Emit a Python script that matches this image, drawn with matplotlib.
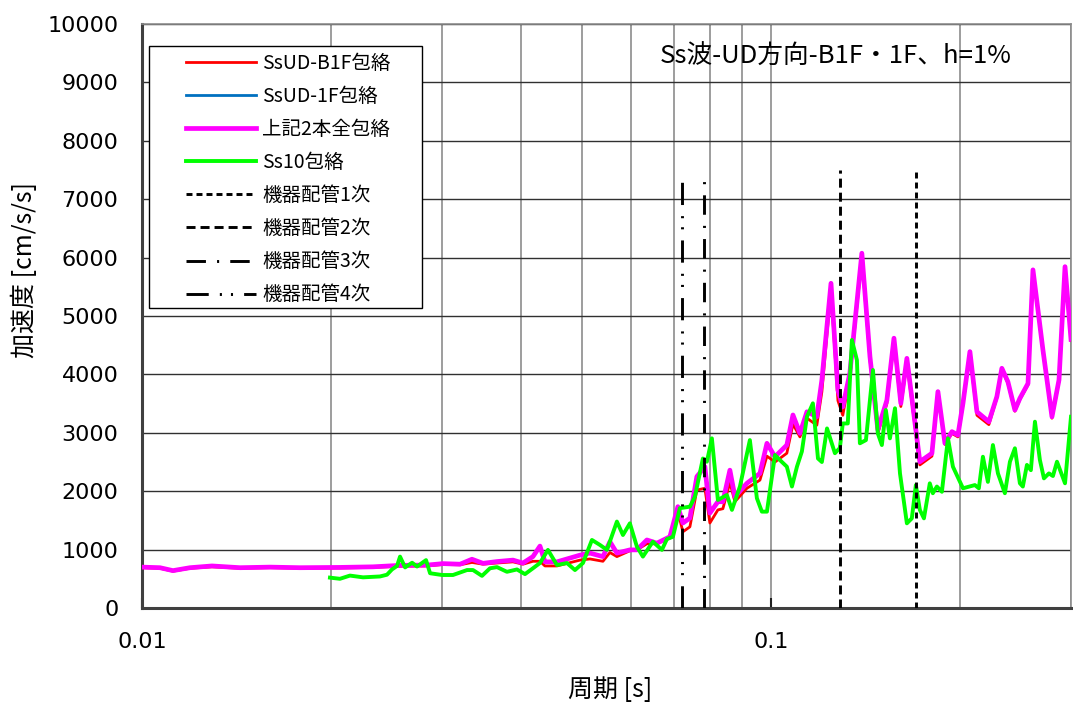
import matplotlib
matplotlib.use("Agg")
import matplotlib.pyplot as plt
from matplotlib.patches import Rectangle
from matplotlib.ticker import FixedLocator, NullFormatter, LogLocator

plt.rcParams['font.family'] = ['DejaVu Sans']
plt.rcParams['lines.scale_dashes'] = False
JP = ['Noto Sans CJK JP', 'DejaVu Sans']

# ---- data ----
env_period = [0.01, 0.01068, 0.0112, 0.01192, 0.01292, 0.01432, 0.01598, 0.01783, 0.02064, 0.02329,
              0.02572, 0.0284, 0.0301, 0.03204, 0.03347, 0.03485, 0.03668, 0.03889, 0.04034, 0.04184,
              0.04293, 0.04372, 0.04569, 0.0497, 0.05155, 0.05406, 0.05546, 0.0569, 0.05967, 0.06122,
              0.0635, 0.06587, 0.06908, 0.07113, 0.07245, 0.07433, 0.07625, 0.07852, 0.07997, 0.08235,
              0.08387, 0.08605, 0.08764, 0.09157, 0.09606, 0.09855, 0.1015, 0.106, 0.1084, 0.1112,
              0.1141, 0.1183, 0.1205, 0.1246, 0.1278, 0.1301, 0.1335, 0.1395, 0.1437, 0.1479,
              0.1529, 0.1569, 0.1609, 0.1645, 0.1725, 0.1803, 0.1843, 0.1891, 0.194, 0.1983,
              0.202, 0.2072, 0.2126, 0.2221, 0.2287, 0.2329, 0.2381, 0.2443, 0.2488, 0.2563,
              0.261, 0.2707, 0.2798, 0.2871, 0.2935, 0.3]
all_env = [700, 690, 640, 690, 720, 690, 700, 690, 695, 705,
           730, 735, 760, 750, 835, 765, 795, 820, 770, 880,
           1060, 790, 790, 905, 940, 880, 1135, 940, 995, 995,
           1165, 1110, 1220, 1735, 1455, 1540, 2250, 2420, 1625, 1820,
           1820, 2360, 1905, 2135, 2305, 2820, 2590, 2790, 3305, 2990,
           3360, 3275, 3900, 5560, 3730, 3445, 4020, 6075, 4305, 3050,
           3560, 4620, 3505, 4275, 2505, 2650, 3705, 2820, 3020, 2960,
           3505, 4390, 3360, 3190, 3620, 4105, 3875, 3390, 3590, 3845,
           5790, 4420, 3275, 3905, 5845, 4600]
b1f_env = [690, 680, 630, 680, 705, 680, 690, 680, 685, 695,
           715, 720, 745, 740, 780, 750, 770, 790, 750, 800,
           800, 720, 720, 820, 840, 800, 950, 880, 980, 995,
           1100, 1100, 1200, 1650, 1305, 1390, 2020, 2050, 1455, 1680,
           1700, 2150, 1820, 2050, 2190, 2600, 2500, 2650, 3150, 2930,
           3250, 3130, 3700, 5450, 3550, 3300, 3950, 6000, 4250, 2990,
           3500, 4550, 3450, 4200, 2450, 2600, 3690, 2800, 2990, 2930,
           3480, 4350, 3300, 3140, 3600, 4080, 3850, 3370, 3570, 3820,
           5760, 4400, 3250, 3880, 5820, 4580]
f1_env = list(all_env)

ss10_period = [0.0199, 0.02064, 0.02141, 0.02246, 0.0239, 0.02452, 0.02497, 0.02544, 0.02572, 0.0262,
               0.02688, 0.02737, 0.02829, 0.02871, 0.03, 0.03122, 0.03287, 0.0336, 0.03472, 0.03575,
               0.03668, 0.03804, 0.03946, 0.04064, 0.04184, 0.04293, 0.0442, 0.04569, 0.04739, 0.0488,
               0.05025, 0.05193, 0.05347, 0.05486, 0.0569, 0.05817, 0.05967, 0.06122, 0.06258, 0.06491,
               0.06709, 0.06833, 0.06985, 0.07166, 0.07433, 0.0757, 0.07795, 0.0791, 0.08056, 0.08235,
               0.08511, 0.0867, 0.08927, 0.09258, 0.09499, 0.09674, 0.09855, 0.1015, 0.1033, 0.106,
               0.108, 0.11, 0.112, 0.1141, 0.1166, 0.1188, 0.1205, 0.1228, 0.1264, 0.1287,
               0.1301, 0.1325, 0.1345, 0.137, 0.1385, 0.1416, 0.1453, 0.1479, 0.1501, 0.1523,
               0.1546, 0.1575, 0.1604, 0.1645, 0.1675, 0.17, 0.1725, 0.1751, 0.1789, 0.1809,
               0.1836, 0.187, 0.1912, 0.1947, 0.202, 0.211, 0.2141, 0.2173, 0.2213, 0.2254,
               0.2296, 0.2355, 0.2399, 0.2443, 0.2488, 0.2515, 0.2553, 0.259, 0.2629, 0.2677,
               0.2717, 0.2767, 0.2808, 0.285, 0.2935, 0.3]
ss10_env = [520, 500, 555, 525, 540, 570, 660, 720, 880, 695,
            775, 710, 820, 595, 565, 565, 650, 650, 550, 680,
            700, 620, 660, 580, 680, 770, 995, 735, 770, 650,
            770, 1165, 1080, 995, 1480, 1250, 1450, 1050, 880, 1135,
            995, 1180, 1220, 1710, 1735, 1905, 2560, 2505, 2905, 1850,
            1935, 1680, 2080, 2875, 1880, 1650, 1650, 2620, 2535, 2420,
            2080, 2420, 2680, 3275, 3505, 2560, 2500, 3075, 2650, 2740,
            3160, 3160, 4590, 4245, 2820, 2875, 4075, 2990, 2790, 3390,
            2905, 3420, 2305, 1450, 1535, 2105, 1680, 1535, 2135, 1965,
            2080, 1990, 2905, 2420, 2050, 2105, 2050, 2590, 2160, 2790,
            2305, 1965, 2505, 2735, 2135, 2080, 2450, 2360, 3190, 2535,
            2220, 2305, 2260, 2505, 2135, 3275]

mode_labels = ['機器配管1次', '機器配管2次', '機器配管3次', '機器配管4次']
mode_period = [0.1698, 0.1290, 0.07823, 0.07226]
mode_top = [7500, 7500, 7400, 7350]
mode_dashes = [(4.3, 2.9), (6.5, 3.6), (14, 8, 1.5, 8), (16, 8, 1.5, 6.5, 1.5, 8)]

series_labels = ['SsUD-B1F包絡', 'SsUD-1F包絡', '上記2本全包絡', 'Ss10包絡']
title_text = 'Ss波-UD方向-B1F・1F、h=1%'
y_ticks = [0, 1000, 2000, 3000, 4000, 5000, 6000, 7000, 8000, 9000, 10000]

# ---- figure ----
fig = plt.figure(figsize=(10.73, 7.09), dpi=100)
ax = fig.add_axes([142/1073, 1-608/709, 929/1073, 584/709])
ax.set_xscale('log')
ax.set_xlim(0.01, 0.3)
ax.set_ylim(0, 10000)

l_red, = ax.plot(env_period, b1f_env, color='#FF0000', lw=2.0, zorder=3)
l_blue, = ax.plot(env_period, f1_env, color='#0070C0', lw=2.0, zorder=3)
l_mag, = ax.plot(env_period, all_env, color='#FF00FF', lw=3.4, zorder=4)
l_grn, = ax.plot(ss10_period, ss10_env, color='#00FF00', lw=2.8, zorder=5)

mode_lines = []
for p, top, d in zip(mode_period, mode_top, mode_dashes):
    ln, = ax.plot([p, p], [0, top], color='black', lw=2.1, dashes=d, zorder=6)
    mode_lines.append(ln)

# grid
ax.set_yticks(y_ticks)
ax.set_yticklabels([str(v) for v in y_ticks])
ax.xaxis.set_major_locator(FixedLocator([0.01, 0.1]))
ax.xaxis.set_minor_locator(LogLocator(base=10, subs=range(2, 10)))
ax.xaxis.set_minor_formatter(NullFormatter())
ax.set_xticklabels(['0.01', '0.1'])
ax.grid(True, axis='y', which='major', color='#303030', lw=1.0, zorder=1)
ax.grid(True, axis='x', which='both', color='#8c8c8c', lw=1.2, zorder=1)
ax.set_axisbelow(True)

ax.tick_params(axis='both', which='major', labelsize=16, pad=17)
ax.tick_params(axis='x', which='major', direction='in', length=7, width=1.5, color='#202020')
ax.tick_params(axis='x', which='minor', length=0)
ax.tick_params(axis='y', which='major', direction='in', length=0)

for s in ['left', 'bottom']:
    ax.spines[s].set_color('#404040')
    ax.spines[s].set_linewidth(2.2)
for s in ['top', 'right']:
    ax.spines[s].set_color('#8c8c8c')
    ax.spines[s].set_linewidth(1.2)

ax.set_xlabel('周期 [s]', family=JP, fontsize=18)
ax.xaxis.set_label_coords((610-142)/929, (608-677)/584)
ax.set_ylabel('加速度 [cm/s/s]', family=JP, fontsize=18)
ax.yaxis.set_label_coords((38-142)/929, (608-270)/584)

ax.text((836-142)/929, (608-57)/584, title_text, transform=ax.transAxes,
        ha='center', va='center', fontsize=18.5, family=JP, zorder=8)

# legend frame + legend
rect = Rectangle(((149-142)/929, (608-308)/584), (422-149)/929, (308-46)/584,
                 transform=ax.transAxes, facecolor='white', edgecolor='black',
                 lw=1.0, zorder=7)
ax.add_patch(rect)
fs = 14
fs_px = fs * 100 / 72
handles = [l_red, l_blue, l_mag, l_grn] + mode_lines
labels = series_labels + mode_labels
leg = ax.legend(handles, labels, loc='upper left',
                bbox_to_anchor=((186-142)/929, (608-53)/584),
                frameon=False, borderpad=0, borderaxespad=0,
                handlelength=70/fs_px, handletextpad=6/fs_px,
                labelspacing=0.62, prop={'family': JP, 'size': fs})
leg.set_zorder(9)

fig.savefig('out.png', dpi=100)
